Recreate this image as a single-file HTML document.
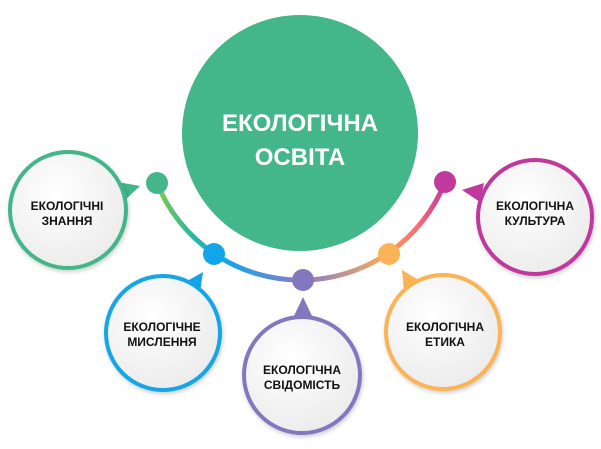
<!DOCTYPE html>
<html><head><meta charset="utf-8"><style>
body{margin:0;background:#fff;width:601px;height:444px;overflow:hidden}
</style></head><body>
<svg width="601" height="444" viewBox="0 0 601 444" xmlns="http://www.w3.org/2000/svg" font-family="Liberation Sans, DejaVu Sans, sans-serif">
<defs>
<linearGradient id="arc" x1="157" y1="0" x2="445" y2="0" gradientUnits="userSpaceOnUse">
<stop offset="0" stop-color="#7ccd4a"/><stop offset="0.12" stop-color="#2fb5a0"/>
<stop offset="0.25" stop-color="#17a6e6"/><stop offset="0.5" stop-color="#8a7cc4"/>
<stop offset="0.68" stop-color="#c99a8a"/><stop offset="0.78" stop-color="#fba558"/>
<stop offset="0.9" stop-color="#ff6e6e"/><stop offset="1" stop-color="#c0399c"/>
</linearGradient>
<radialGradient id="fill" cx="0.4" cy="0.35" r="0.7">
<stop offset="0" stop-color="#ffffff"/><stop offset="1" stop-color="#ebebeb"/>
</radialGradient>
<filter id="sh" x="-20%" y="-20%" width="140%" height="140%"><feDropShadow dx="1" dy="2" stdDeviation="2" flood-opacity="0.2"/></filter>
</defs>
<circle cx="300" cy="133" r="118" fill="#43b68a"/>
<text x="300" y="131" fill="#fff" font-size="24" font-weight="bold" text-anchor="middle">ЕКОЛОГІЧНА</text>
<text x="300" y="165" fill="#fff" font-size="24" font-weight="bold" text-anchor="middle">ОСВІТА</text>
<path d="M157,183 A155,155 0 0 0 445,182" fill="none" stroke="url(#arc)" stroke-width="5"/>
<circle cx="157" cy="183" r="11" fill="#43b68a"/>
<circle cx="214" cy="254" r="11" fill="#12a6e8"/>
<circle cx="303" cy="280" r="11" fill="#8378c0"/>
<circle cx="389" cy="254" r="11" fill="#fbb357"/>
<circle cx="445" cy="182" r="11" fill="#c0399c"/>
<polygon points="140,186 118,182 125,200" fill="#43b68a"/>
<polygon points="203,272 182,284 200,292" fill="#12a6e8"/>
<polygon points="303,297 293,318 313,318" fill="#8378c0"/>
<polygon points="402,270 404,292 422,282" fill="#fbb357"/>
<polygon points="462,190 484,183 480,202" fill="#c0399c"/>
<g filter="url(#sh)">
<circle cx="68" cy="210" r="58" fill="url(#fill)" stroke="#43b68a" stroke-width="4"/>
<circle cx="163" cy="333" r="57" fill="url(#fill)" stroke="#12a6e8" stroke-width="4"/>
<circle cx="302" cy="375" r="58" fill="url(#fill)" stroke="#8378c0" stroke-width="4"/>
<circle cx="443" cy="332" r="57" fill="url(#fill)" stroke="#fbb357" stroke-width="4"/>
<circle cx="535" cy="217" r="57" fill="url(#fill)" stroke="#c0399c" stroke-width="4"/>
</g>
<g font-size="12" font-weight="bold" fill="#111" text-anchor="middle">
<text x="67" y="210">ЕКОЛОГІЧНІ</text><text x="67" y="225">ЗНАННЯ</text>
<text x="162" y="331">ЕКОЛОГІЧНЕ</text><text x="162" y="346">МИСЛЕННЯ</text>
<text x="302" y="374">ЕКОЛОГІЧНА</text><text x="302" y="389">СВІДОМІСТЬ</text>
<text x="445" y="331">ЕКОЛОГІЧНА</text><text x="445" y="346">ЕТИКА</text>
<text x="535" y="210">ЕКОЛОГІЧНА</text><text x="535" y="225">КУЛЬТУРА</text>
</g>
</svg>
</body></html>
